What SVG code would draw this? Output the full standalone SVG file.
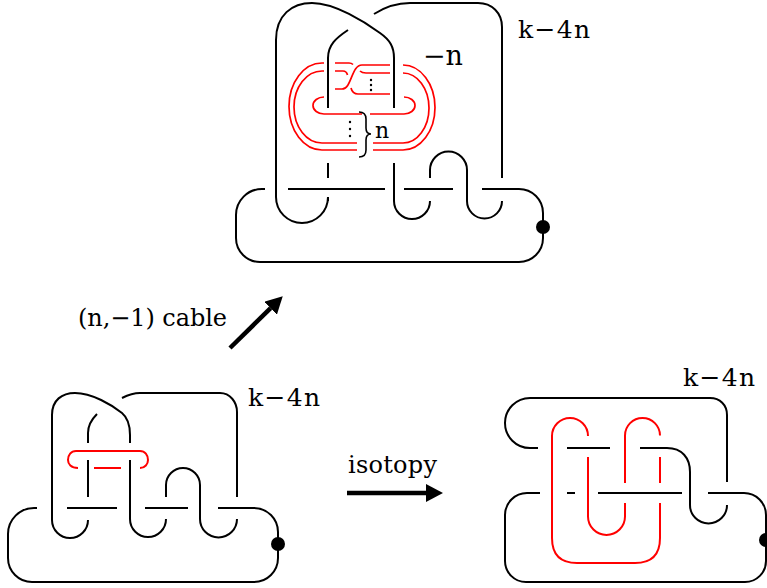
<svg xmlns="http://www.w3.org/2000/svg" width="767" height="588" viewBox="0 0 767 588">
<defs>
<style>
.k{fill:none;stroke:#000;stroke-width:2}
.r{fill:none;stroke:#f00;stroke-width:1.7}
.r2{fill:none;stroke:#f00;stroke-width:2}
.t{font-family:"DejaVu Serif","Liberation Serif",serif;fill:#000}
.d{fill:#000}
.a{stroke:#000;stroke-width:4.5;fill:none}
</style>
<marker id="ah" markerUnits="userSpaceOnUse" markerWidth="17" markerHeight="18" refX="0" refY="9" orient="auto" viewBox="0 0 17 18"><path d="M0,0 L17,9 L0,18 z" fill="#000"/></marker>
</defs>
<rect width="767" height="588" fill="#fff"/>

<g id="knot-top">
<path class="k" d="M328,201 L328,197 A26,26 0 0 1 276,197 L276,40 C276,15 292,3 312,3 C335,3 365,22 380,33 C390,40 394,47 394,58 L394,108"/>
<path class="k" d="M348,30 C336,38 328,45 328,58 L328,108"/>
<path class="k" d="M328,163 L328,178"/>
<path class="k" d="M374,14 C385,7 395,3 410,3 L478,3 C492,3 502,13 502,27 L502,178"/>
<path class="k" d="M394,163 L394,201 A18,18 0 0 0 430,201"/>
<path class="k" d="M430,178 L430,170 A18.5,18.5 0 0 1 467,170 L467,201 A17.5,17.5 0 0 0 502,201"/>
<path class="k" d="M288,189 L385,189 M404,189 L453,189"/>
<path class="k" d="M482,189 L519,189 A24,24 0 0 1 543,213 L543,238 A24,24 0 0 1 519,262 L260,262 A24,24 0 0 1 236,238 L236,215 A26,26 0 0 1 262,189 L265,189"/>
<circle class="d" cx="543" cy="227" r="7"/>
<path class="r" d="M324,63 L322,63 A33,43.5 0 0 0 322,150 L357,150 M373,150 L403,150 A32,42.5 0 0 0 403,65"/>
<path class="r" d="M324,71 L322,71 A28,36 0 0 0 322,143 L357,143 M373,143 L403,143 A26,35 0 0 0 403,73"/>
<path class="r" d="M324,97 A11,8.5 0 0 0 324,114 L362,114 M370,114 L404,114 A11,8.5 0 0 0 404,97"/>
<path class="r" d="M335,89 L342,89 C352,89 351,65 362,65 L390,65"/>
<path class="r" d="M335,63 L349,63 C351,63 352,63.5 353,64.5 M360,71 C361.5,72.5 363,73 366,73 L390,73"/>
<path class="r" d="M335,71 L343,71 C345.5,71 347,73 347.5,75 M351,88 C352,92 354,94 358,94 L390,94"/>
<circle class="d" cx="371" cy="80" r="1.2"/>
<circle class="d" cx="371" cy="85" r="1.2"/>
<circle class="d" cx="371" cy="90" r="1.2"/>
<circle class="d" cx="350" cy="122" r="1.2"/>
<circle class="d" cx="350" cy="129" r="1.2"/>
<circle class="d" cx="350" cy="136" r="1.2"/>
<path fill="none" stroke="#000" stroke-width="1.6" d="M359,112 C364,112 366,114 366,119 L366,128 C366,132 368,134 371,134 C368,134 366,136 366,140 L366,150 C366,155 364,157 359,157"/>
<text class="t" x="375" y="138" font-size="22">n</text>
<text class="t" x="423" y="65" font-size="27">−n</text>
<text class="t" x="518" y="38" font-size="25" textLength="72" lengthAdjust="spacing">k−4n</text>
</g>

<g id="knot-left">
<path class="k" d="M88,520 A18,18 0 0 1 52,520 L52,415 C52,400 62,393 75,393 C92,393 112,405 122,413 C128,418 130,425 130,435 L130,443"/>
<path class="k" d="M97,414 C91,420 88,426 88,433 L88,443"/>
<path class="k" d="M88,460 L88,497"/>
<path class="k" d="M130,460 L130,519 A18,18 0 0 0 166,519"/>
<path class="k" d="M166,497 L166,485 A17,17 0 0 1 200,485 L200,519 A18.5,18.5 0 0 0 237,519"/>
<path class="k" d="M122,398 C128,395 133,393 140,393 L220,393 C230,393 237,402 237,412 L237,497"/>
<path class="k" d="M67,508 L117,508 M145,508 L188,508"/>
<path class="k" d="M218,508 L254,508 A24,24 0 0 1 278,532 L278,558 A24,24 0 0 1 254,582 L32,582 A24,24 0 0 1 8,558 L8,534 A26,26 0 0 1 34,508 L37,508"/>
<circle class="d" cx="278" cy="544" r="7"/>
<path class="r2" d="M78,468 C71,468 68,464 68,460 C68,455 71,451 76,451 L140,451 C145,451 148,455 148,460 C148,464 145,468 140,468"/>
<path class="r2" d="M94,468 L121,468"/>
<text class="t" x="248" y="406" font-size="25" textLength="72" lengthAdjust="spacing">k−4n</text>
</g>

<g id="knot-right">
<path class="k" d="M538,448 L530,448 A25,25 0 0 1 530,398 L710,398 C720,398 727,405 727,415 L727,482"/>
<path class="k" d="M567,448 L610,448"/>
<path class="k" d="M640,448 L667,448 C682,448 690,458 690,472 L690,505 A18.5,18.5 0 0 0 727,505"/>
<path class="k" d="M540,493 L527,493 A22,22 0 0 0 505,515 L505,561 A21,21 0 0 0 526,582 L745,582 A21,21 0 0 0 766,561 L766,515 A22,22 0 0 0 744,493 L708,493"/>
<path class="k" d="M567,493 L575,493 M598,493 L682,493"/>
<circle class="d" cx="766" cy="540" r="7"/>
<path class="r2" d="M552,538 L552,436 A18,18 0 0 1 588,436"/>
<path class="r2" d="M588,457 L588,516.5 A18.5,18.5 0 0 0 625,516.5 L625,503"/>
<path class="r2" d="M625,483 L625,435.5 A17.5,17.5 0 0 1 660,435.5"/>
<path class="r2" d="M660,457 L660,483"/>
<path class="r2" d="M660,503 L660,538 Q660,563 635,563 L577,563 Q552,563 552,538"/>
<text class="t" x="683" y="386" font-size="25" textLength="72" lengthAdjust="spacing">k−4n</text>
</g>

<g id="connectors">
<line class="a" x1="230" y1="348" x2="270.6" y2="308.2" marker-end="url(#ah)"/>
<line class="a" x1="347" y1="493" x2="426" y2="493" marker-end="url(#ah)"/>
<text class="t" x="78" y="326" font-size="24" textLength="149" lengthAdjust="spacing">(n,−1) cable</text>
<text class="t" x="348" y="473" font-size="24" textLength="89" lengthAdjust="spacing">isotopy</text>
</g>
</svg>
